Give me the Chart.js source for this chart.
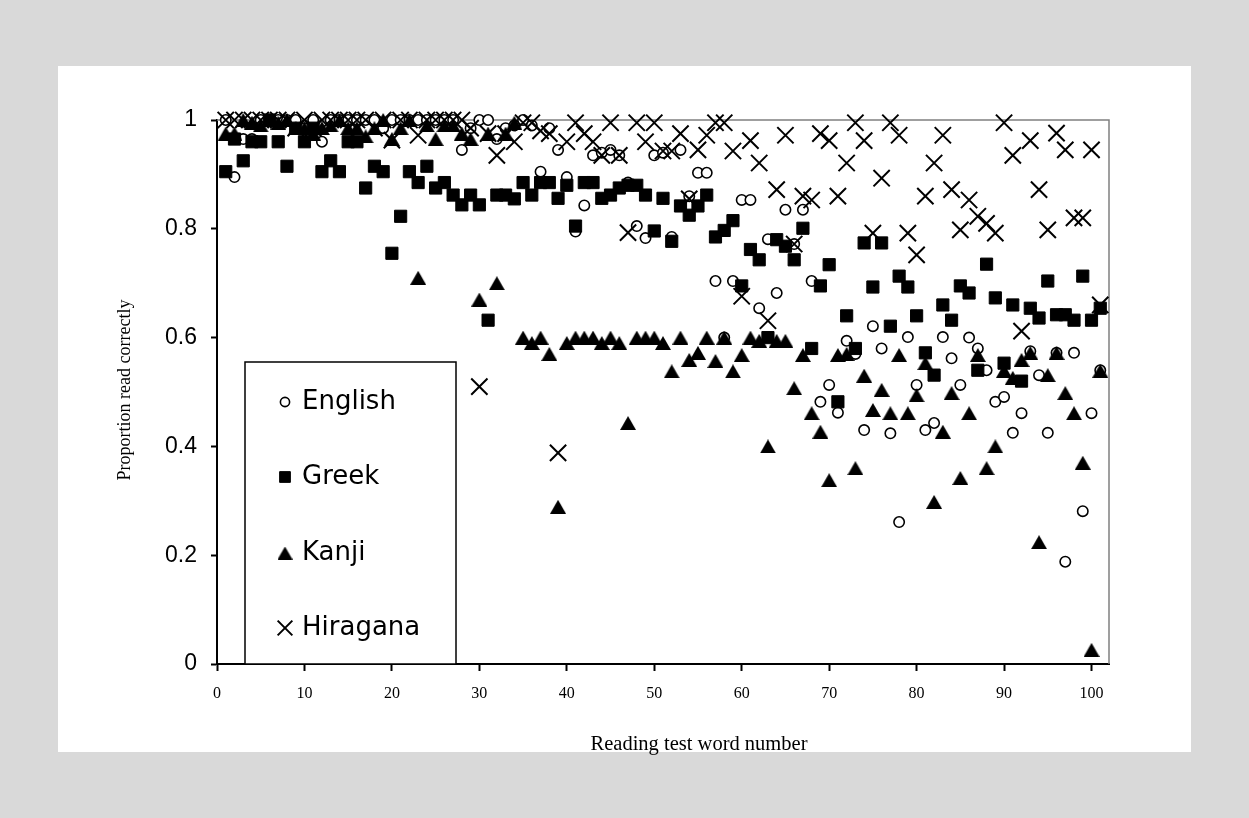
<!DOCTYPE html>
<html>
<head>
<meta charset="utf-8">
<title>Proportion read correctly by reading test word</title>
<style>
  html, body { margin: 0; padding: 0; background: #d9d9d9; }
  #wrap { position: relative; width: 1249px; height: 818px; overflow: hidden; }
  #panel { position: absolute; left: 58px; top: 66px; width: 1133px; height: 686px; background: #ffffff; }
  #chart { position: absolute; left: 0; top: 0; }
</style>
<script src="https://cdn.jsdelivr.net/npm/chart.js@4.4.1/dist/chart.umd.min.js"></script>
</head>
<body>
<div id="wrap">
  <div id="panel"></div>
  <canvas id="chart" width="1249" height="818"></canvas>
</div>
<script>
// Word numbers of the reading test (x axis)
const wordNumbers = [
  1, 2, 3, 4, 5, 6, 7, 8, 9, 10,
  11, 12, 13, 14, 15, 16, 17, 18, 19, 20,
  21, 22, 23, 24, 25, 26, 27, 28, 29, 30,
  31, 32, 33, 34, 35, 36, 37, 38, 39, 40,
  41, 42, 43, 44, 45, 46, 47, 48, 49, 50,
  51, 52, 53, 54, 55, 56, 57, 58, 59, 60,
  61, 62, 63, 64, 65, 66, 67, 68, 69, 70,
  71, 72, 73, 74, 75, 76, 77, 78, 79, 80,
  81, 82, 83, 84, 85, 86, 87, 88, 89, 90,
  91, 92, 93, 94, 95, 96, 97, 98, 99, 100,
  101
];

// Proportion of readers who read each word correctly, per script
const english = [
  1.0, 0.895, 0.965, 0.965, 1.0, 1.0, 1.0, 1.0, 1.0, 0.985,
  1.0, 0.96, 1.0, 1.0, 1.0, 1.0, 1.0, 1.0, 0.985, 1.0,
  1.0, 1.0, 1.0, 1.0, 1.0, 1.0, 1.0, 0.945, 0.985, 1.0,
  1.0, 0.965, 0.985, 0.99, 1.0, 0.99, 0.905, 0.985, 0.945, 0.895,
  0.795, 0.843, 0.935, 0.94, 0.945, 0.935, 0.885, 0.805, 0.783, 0.935,
  0.94, 0.785, 0.945, 0.86, 0.903, 0.903, 0.704, 0.60, 0.704, 0.853,
  0.853, 0.654, 0.781, 0.682, 0.835, 0.772, 0.835, 0.704, 0.482, 0.513,
  0.462, 0.594, 0.57, 0.43, 0.621, 0.58, 0.424, 0.261, 0.601, 0.513,
  0.43, 0.443, 0.601, 0.562, 0.513, 0.60, 0.58, 0.54, 0.482, 0.491,
  0.425, 0.461, 0.575, 0.531, 0.425, 0.572, 0.188, 0.572, 0.281, 0.461,
  0.54
];

const greek = [
  0.905, 0.965, 0.925, 0.96, 0.96, 1.0, 0.96, 0.915, 0.985, 0.96,
  0.985, 0.905, 0.925, 0.905, 0.96, 0.96, 0.875, 0.915, 0.905, 0.755,
  0.823, 0.905, 0.885, 0.915, 0.875, 0.885, 0.862, 0.844, 0.862, 0.844,
  0.632, 0.862, 0.862, 0.855, 0.885, 0.862, 0.885, 0.885, 0.856, 0.88,
  0.805, 0.885, 0.885, 0.856, 0.862, 0.875, 0.88, 0.88, 0.862, 0.796,
  0.856, 0.777, 0.842, 0.825, 0.842, 0.862, 0.785, 0.797, 0.815, 0.695,
  0.762, 0.743, 0.60, 0.78, 0.768, 0.743, 0.801, 0.58, 0.695, 0.734,
  0.482, 0.64, 0.58, 0.774, 0.693, 0.774, 0.621, 0.713, 0.693, 0.64,
  0.572, 0.531, 0.66, 0.632, 0.695, 0.682, 0.54, 0.735, 0.673, 0.553,
  0.66, 0.52, 0.654, 0.636, 0.704, 0.642, 0.642, 0.632, 0.713, 0.632,
  0.654
];

const kanji = [
  0.975, 0.975, 1.0, 0.995, 0.99, 1.0, 0.995, 1.0, 0.985, 0.985,
  0.975, 0.985, 0.99, 1.0, 0.985, 0.985, 0.97, 0.985, 1.0, 0.965,
  0.985, 1.0, 0.71, 0.99, 0.965, 0.99, 0.99, 0.975, 0.965, 0.67,
  0.975, 0.70, 0.975, 0.995, 0.60, 0.59, 0.60, 0.57, 0.289, 0.59,
  0.60, 0.60, 0.60, 0.59, 0.60, 0.59, 0.443, 0.60, 0.60, 0.60,
  0.59, 0.538, 0.60, 0.559, 0.572, 0.60, 0.557, 0.60, 0.538, 0.568,
  0.60, 0.594, 0.40, 0.594, 0.594, 0.507, 0.568, 0.461, 0.427, 0.338,
  0.568, 0.57, 0.36, 0.53, 0.467, 0.504, 0.461, 0.568, 0.461, 0.494,
  0.553, 0.298, 0.427, 0.498, 0.342, 0.461, 0.568, 0.36, 0.40, 0.539,
  0.526, 0.559, 0.572, 0.224, 0.531, 0.572, 0.498, 0.461, 0.37, 0.026,
  0.539
];

const hiragana = [
  1.0, 1.0, 1.0, 1.0, 1.0, 1.0, 1.0, 1.0, 0.985, 1.0,
  0.985, 1.0, 1.0, 1.0, 1.0, 1.0, 1.0, 0.985, 1.0, 0.963,
  1.0, 1.0, 0.972, 1.0, 1.0, 1.0, 1.0, 1.0, 0.985, 0.51,
  0.975, 0.935, 0.975, 0.96, 0.995, 0.995, 0.98, 0.975, 0.388, 0.96,
  0.995, 0.975, 0.96, 0.935, 0.995, 0.935, 0.793, 0.995, 0.96, 0.995,
  0.943, 0.943, 0.975, 0.855, 0.945, 0.972, 0.995, 0.995, 0.943, 0.676,
  0.962, 0.921, 0.631, 0.872, 0.972, 0.772, 0.86, 0.853, 0.975, 0.962,
  0.86, 0.921, 0.995, 0.962, 0.792, 0.893, 0.995, 0.972, 0.792, 0.752,
  0.86, 0.921, 0.972, 0.872, 0.798, 0.853, 0.823, 0.81, 0.792, 0.995,
  0.935, 0.612, 0.962, 0.872, 0.798, 0.976, 0.945, 0.82, 0.82, 0.945,
  0.66
];

// Axis tick values and titles
const xTickValues = [0, 10, 20, 30, 40, 50, 60, 70, 80, 90, 100];
const yTickValues = [0, 0.2, 0.4, 0.6, 0.8, 1];
const xAxisTitle = 'Reading test word number';
const yAxisTitle = 'Proportion read correctly';

const seriesNames = ['English', 'Greek', 'Kanji', 'Hiragana'];
const seriesValues = [english, greek, kanji, hiragana];

function toPoints(values) {
  return wordNumbers.map((w, i) => ({ x: w, y: values[i] }));
}

// Solid triangle marker, centred on its bounding box
function triangleMarker(w, h) {
  const c = document.createElement('canvas');
  c.width = Math.ceil(w);
  c.height = Math.ceil(h);
  const g = c.getContext('2d');
  g.fillStyle = '#000000';
  g.beginPath();
  g.moveTo(c.width / 2, 0);
  g.lineTo(c.width, c.height);
  g.lineTo(0, c.height);
  g.closePath();
  g.fill();
  return c;
}

const triChart = triangleMarker(16, 14);
const triLegend = triangleMarker(15, 13);

const styles = [
  { pointStyle: 'circle',   legendStyle: 'circle',   radius: 5.2,  bg: '#ffffff', border: '#000000', bw: 1.6, legendRadius: 4.6 },
  { pointStyle: 'rect',     legendStyle: 'rect',     radius: 8.6,  bg: '#000000', border: '#000000', bw: 1,   legendRadius: 7.6 },
  { pointStyle: triChart,   legendStyle: triLegend,  radius: 9.0,  bg: '#000000', border: '#000000', bw: 0,   legendRadius: 8.2 },
  { pointStyle: 'crossRot', legendStyle: 'crossRot', radius: 11.5, bg: '#000000', border: '#000000', bw: 2,   legendRadius: 10.4 }
];

const datasets = seriesNames.map((name, i) => ({
  label: name,
  data: toPoints(seriesValues[i]),
  pointStyle: styles[i].pointStyle,
  pointRadius: styles[i].radius,
  pointHoverRadius: styles[i].radius,
  pointBackgroundColor: styles[i].bg,
  pointBorderColor: styles[i].border,
  pointBorderWidth: styles[i].bw,
  showLine: false,
  clip: false,
  // later series are painted over earlier ones
  order: seriesNames.length - i
}));

// Thin grey frame along the top and right of the plot area
const plotFrame = {
  id: 'plotFrame',
  beforeDatasetsDraw(chart) {
    const { ctx, chartArea: a } = chart;
    ctx.save();
    ctx.strokeStyle = '#808080';
    ctx.lineWidth = 1.5;
    ctx.beginPath();
    ctx.moveTo(a.left, a.top);
    ctx.lineTo(a.right, a.top);
    ctx.lineTo(a.right, a.bottom);
    ctx.stroke();
    ctx.restore();
  }
};

// Axis titles in a serif face
const axisTitles = {
  id: 'axisTitles',
  afterDraw(chart) {
    const { ctx, chartArea: a } = chart;
    ctx.save();
    ctx.fillStyle = '#000000';
    ctx.textAlign = 'center';
    ctx.textBaseline = 'middle';
    ctx.font = '20.5px "Liberation Serif", "Times New Roman", serif';
    ctx.fillText(xAxisTitle, (a.left + a.right) / 2 + 36, a.bottom + 81);
    ctx.translate(a.left - 92, (a.top + a.bottom) / 2 - 2);
    ctx.rotate(-Math.PI / 2);
    ctx.font = '18px "Liberation Serif", "Times New Roman", serif';
    ctx.fillText(yAxisTitle, 0, 0);
    ctx.restore();
  }
};

// Boxed legend in the lower-left corner of the plot area
const boxedLegend = {
  id: 'boxedLegend',
  afterDatasetsDraw(chart) {
    const { ctx, chartArea: a } = chart;
    const left = a.left + 28, right = a.left + 239;
    const top = a.top + 242, bottom = a.bottom;
    ctx.save();
    ctx.fillStyle = '#ffffff';
    ctx.fillRect(left, top, right - left, bottom - top);
    ctx.strokeStyle = '#000000';
    ctx.lineWidth = 1.5;
    ctx.strokeRect(left, top, right - left, bottom - top);

    const rows = [a.top + 282, a.top + 357, a.top + 433, a.top + 508];
    ctx.font = '26px "DejaVu Sans"';
    ctx.textBaseline = 'middle';
    ctx.textAlign = 'left';
    chart.data.datasets.forEach((ds, i) => {
      const y = rows[i];
      const st = styles[i];
      ctx.fillStyle = st.bg;
      ctx.strokeStyle = st.border;
      ctx.lineWidth = st.bw;
      Chart.helpers.drawPoint(ctx, {
        pointStyle: st.legendStyle,
        radius: st.legendRadius,
        rotation: 0,
        borderWidth: st.bw
      }, left + 40, y);
      ctx.fillStyle = '#000000';
      ctx.fillText(ds.label, left + 57, y);
    });
    ctx.restore();
  }
};

new Chart(document.getElementById('chart'), {
  type: 'scatter',
  data: { datasets },
  options: {
    responsive: false,
    animation: false,
    devicePixelRatio: 1,
    layout: { padding: { left: 0, top: 120, right: 140, bottom: 0 } },
    plugins: {
      legend: { display: false },
      tooltip: { enabled: false }
    },
    scales: {
      x: {
        type: 'linear',
        min: 0,
        max: 102,
        afterFit(scale) { scale.height = 154; },
        afterBuildTicks(scale) { scale.ticks = xTickValues.map(v => ({ value: v })); },
        ticks: {
          color: '#000000',
          font: { family: '"Liberation Serif", "Times New Roman", serif', size: 16 },
          padding: 13,
          maxRotation: 0,
          autoSkip: false,
          callback: (v) => String(v)
        },
        grid: { display: true, drawOnChartArea: false, tickLength: 7, tickWidth: 2, tickColor: '#000000' },
        border: { display: true, color: '#000000', width: 2 }
      },
      y: {
        type: 'linear',
        min: 0,
        max: 1,
        afterFit(scale) { scale.width = 217; },
        afterBuildTicks(scale) { scale.ticks = yTickValues.map(v => ({ value: v })); },
        ticks: {
          color: '#000000',
          font: { family: '"Liberation Sans", Arial, sans-serif', size: 23 },
          padding: 14,
          autoSkip: false,
          callback: (v) => String(Math.round(v * 10) / 10)
        },
        grid: { display: true, drawOnChartArea: false, tickLength: 6, tickWidth: 2, tickColor: '#000000' },
        border: { display: true, color: '#000000', width: 2 }
      }
    }
  },
  plugins: [plotFrame, boxedLegend, axisTitles]
});
</script>
</body>
</html>
